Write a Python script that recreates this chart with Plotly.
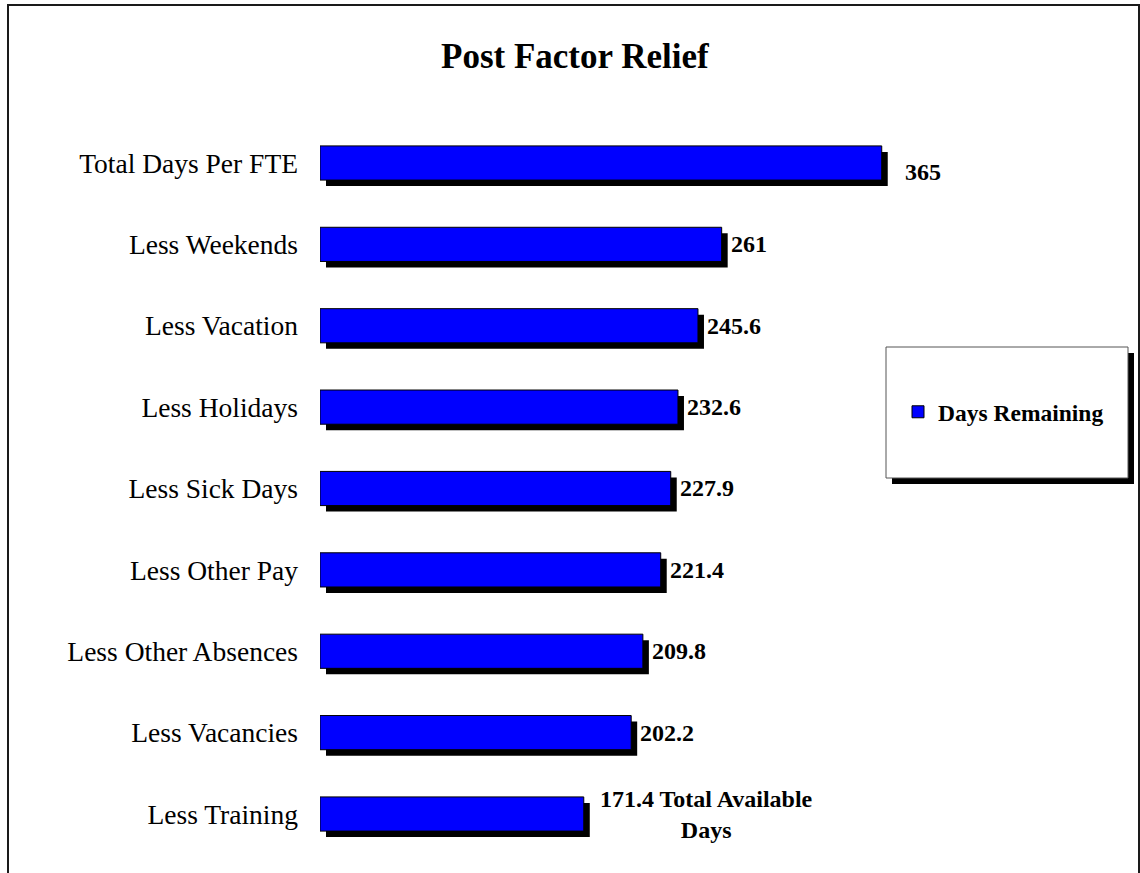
import plotly.graph_objects as go

# ---- data ----
categories = ["Total Days Per FTE", "Less Weekends", "Less Vacation", "Less Holidays",
              "Less Sick Days", "Less Other Pay", "Less Other Absences", "Less Vacancies",
              "Less Training"]
days_remaining = [365, 261, 245.6, 232.6, 227.9, 221.4, 209.8, 202.2, 171.4]
value_labels = ["365", "261", "245.6", "232.6", "227.9", "221.4", "209.8", "202.2",
                "171.4 Total Available<br>Days"]
series_name = "Days Remaining"
title_text = "Post Factor Relief"

# ---- styling / geometry ----
W, H = 1140, 873
FONT = "Liberation Serif"
x_range = [0, 400]
px_per_unit = 1.539
x0_px = 320
sh = 6  # shadow offset px
main_xdom = [x0_px / W, (x0_px + px_per_unit * x_range[1]) / W]
shad_xdom = [(x0_px + sh) / W, (x0_px + sh + px_per_unit * x_range[1]) / W]
top_px, bot_px = 122.3, 854.7
main_ydom = [1 - bot_px / H, 1 - top_px / H]
shad_ydom = [main_ydom[0] - sh / H, main_ydom[1] - sh / H]
label_shift = {0: (21, -9), 8: (14, 0)}
default_shift = (7, 0)

fig = go.Figure()
# shadow bars (drawn first, beneath)
fig.add_trace(go.Bar(x=days_remaining, y=categories, orientation="h",
                     marker=dict(color="black", line=dict(width=0)),
                     width=0.42, showlegend=False, hoverinfo="skip",
                     xaxis="x", yaxis="y"))
# main bars
fig.add_trace(go.Bar(x=days_remaining, y=categories, orientation="h", name=series_name,
                     marker=dict(color="#0000FF", line=dict(color="black", width=1)),
                     width=0.42, showlegend=True, hoverinfo="skip",
                     xaxis="x2", yaxis="y2"))

annotations = []
for i, (cat, val, lab) in enumerate(zip(categories, days_remaining, value_labels)):
    xs, ys = label_shift.get(i, default_shift)
    annotations.append(dict(x=val, y=cat, xref="x2", yref="y2", text=lab,
                            showarrow=False, xanchor="left", yanchor="middle",
                            align="center", xshift=xs, yshift=ys,
                            font=dict(family=FONT, size=24, color="black", weight="bold")))
annotations.append(dict(x=575 / W, y=1 - 57 / H, xref="paper", yref="paper",
                        text=title_text, showarrow=False, xanchor="center", yanchor="middle",
                        font=dict(family=FONT, size=35, color="black", weight="bold")))

shapes = [
    dict(type="rect", xref="paper", yref="paper", x0=8 / W, x1=1139 / W, y0=-0.1,
         y1=1 - 5 / H, line=dict(color="#1a1a1a", width=2), fillcolor="rgba(0,0,0,0)",
         layer="below"),
    dict(type="rect", xref="paper", yref="paper", x0=892 / W, x1=1134 / W,
         y0=1 - 484 / H, y1=1 - 353 / H, line=dict(width=0), fillcolor="black"),
    dict(type="rect", xref="paper", yref="paper", x0=886 / W, x1=1128 / W,
         y0=1 - 478 / H, y1=1 - 347 / H, line=dict(color="#555555", width=1),
         fillcolor="white"),
]

axis_common = dict(showgrid=False, zeroline=False, showline=False, fixedrange=True)
fig.update_layout(
    width=W, height=H,
    margin=dict(l=0, r=0, t=0, b=0, autoexpand=False),
    paper_bgcolor="white", plot_bgcolor="rgba(0,0,0,0)",
    barmode="overlay",
    xaxis=dict(domain=shad_xdom, range=x_range, showticklabels=False, **axis_common),
    yaxis=dict(domain=shad_ydom, type="category", range=[8.5, -0.5],
               showticklabels=False, anchor="x", **axis_common),
    xaxis2=dict(domain=main_xdom, range=x_range, showticklabels=False, anchor="y2",
                **axis_common),
    yaxis2=dict(domain=main_ydom, type="category", range=[8.5, -0.5], anchor="x2",
                ticks="", ticklabelstandoff=21,
                tickfont=dict(family=FONT, size=27.5, color="black"), **axis_common),
    legend=dict(x=898 / W, y=1 - 412 / H, xanchor="left", yanchor="middle",
                bgcolor="rgba(0,0,0,0)", borderwidth=0,
                font=dict(family=FONT, size=23.5, color="black", weight="bold")),
    annotations=annotations,
    shapes=shapes,
    showlegend=True,
)

fig.write_html("out.html", config={"displayModeBar": False},
               post_script="document.body.style.margin='0px';")
